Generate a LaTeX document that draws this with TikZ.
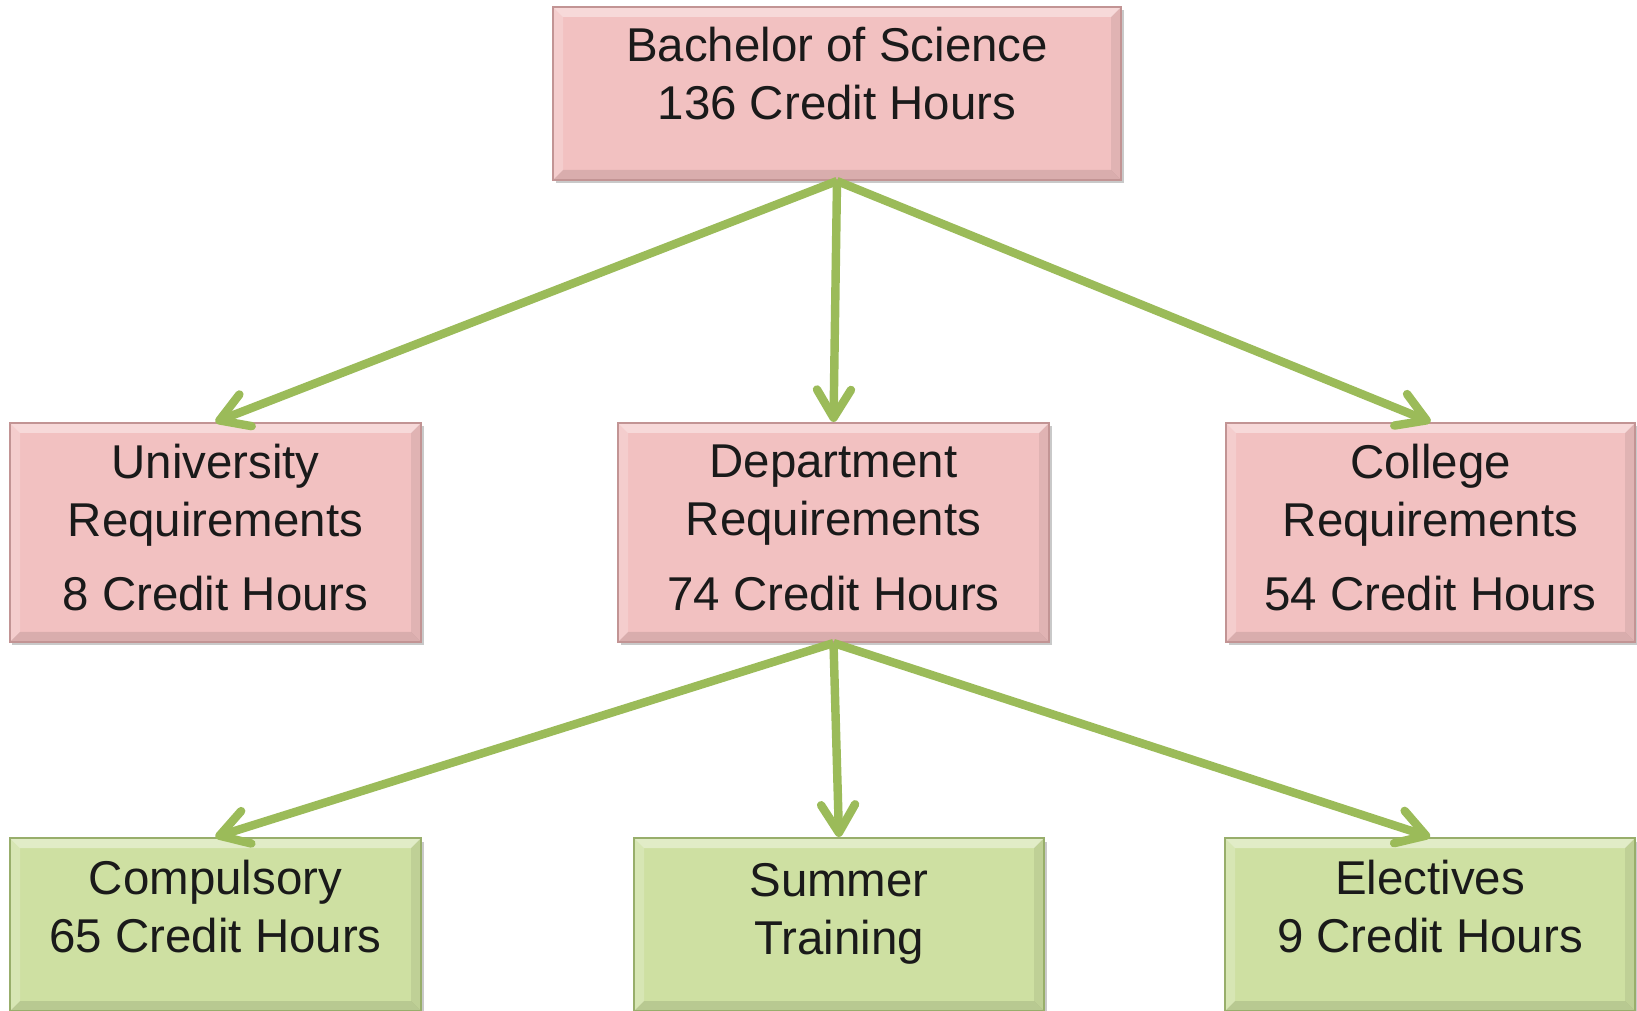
\documentclass[tikz,border=0pt]{standalone}
\usepackage{fontspec}
\setmainfont{Liberation Sans}
\usetikzlibrary{arrows.meta,shadows}
\definecolor{reqpink}{HTML}{F2C1C1}
\definecolor{reqpinkedge}{HTML}{C29494}
\definecolor{crsgreen}{HTML}{CEE0A2}
\definecolor{crsgreenedge}{HTML}{98AE6B}
\definecolor{linkgreen}{HTML}{9BBB59}
\definecolor{boxtextcol}{HTML}{1A1A1A}
\tikzset{
	bevel/.style={path picture={
		\fill[white,opacity=0.4] (path picture bounding box.north west) -- (path picture bounding box.north east) -- ([xshift=-0.1cm,yshift=-0.1cm]path picture bounding box.north east) -- ([xshift=0.1cm,yshift=-0.1cm]path picture bounding box.north west) -- cycle;
		\fill[white,opacity=0.2] (path picture bounding box.north west) -- (path picture bounding box.south west) -- ([xshift=0.1cm,yshift=0.1cm]path picture bounding box.south west) -- ([xshift=0.1cm,yshift=-0.1cm]path picture bounding box.north west) -- cycle;
		\fill[black,opacity=0.1] (path picture bounding box.south west) -- (path picture bounding box.south east) -- ([xshift=-0.1cm,yshift=0.1cm]path picture bounding box.south east) -- ([xshift=0.1cm,yshift=0.1cm]path picture bounding box.south west) -- cycle;
		\fill[black,opacity=0.07] (path picture bounding box.north east) -- (path picture bounding box.south east) -- ([xshift=-0.1cm,yshift=0.1cm]path picture bounding box.south east) -- ([xshift=-0.1cm,yshift=-0.1cm]path picture bounding box.north east) -- cycle;
	}},
	boxshadow/.style={drop shadow={shadow xshift=0.025cm, shadow yshift=-0.035cm, opacity=0.3, fill=black!70}},
	reqbox/.style={rectangle, inner sep=0pt, fill=reqpink, draw=reqpinkedge, line width=0.6pt, bevel, boxshadow},
	crsbox/.style={rectangle, inner sep=0pt, fill=crsgreen, draw=crsgreenedge, line width=0.6pt, bevel, boxshadow},
	boxlabel/.style={align=center, inner sep=0pt, text=boxtextcol, font=\fontsize{13.5}{16.5}\selectfont},
	link/.style={draw=linkgreen, line width=2.4pt, -{Straight Barb[length=0.28cm, width=0.34cm, round]}}
}
\begin{document}
\begin{tikzpicture}
		%%%%% START %%%%%
		\useasboundingbox (0, 0) rectangle (16.37, -10.11);
		
		\node[reqbox, minimum width=5.68cm, minimum height=1.73cm] (bs) at (8.37, -0.935) {};
		\node[boxlabel] (bslabel) at ([yshift=0.195cm]bs.center) {Bachelor of Science\\136 Credit Hours};
		
		\node[reqbox, minimum width=4.11cm, minimum height=2.19cm] (uni) at (2.155, -5.325) {};
		\node[reqbox, minimum width=4.31cm, minimum height=2.19cm] (dep) at (8.335, -5.325) {};
		\node[reqbox, minimum width=4.09cm, minimum height=2.19cm] (col) at (14.305, -5.325) {};
		\node[boxlabel] (unilabel) at ([yshift=0.05cm]uni.center) {University\\Requirements\\[4.8pt]8 Credit Hours};
		\node[boxlabel] (deplabel) at ([yshift=0.05cm]dep.center) {Department\\Requirements\\[4.8pt]74 Credit Hours};
		\node[boxlabel] (collabel) at ([yshift=0.05cm]col.center) {College\\Requirements\\[4.8pt]54 Credit Hours};
		
		\node[crsbox, minimum width=4.11cm, minimum height=1.73cm] (cmp) at (2.155, -9.245) {};
		\node[crsbox, minimum width=4.10cm, minimum height=1.73cm] (sum) at (8.39, -9.245) {};
		\node[crsbox, minimum width=4.10cm, minimum height=1.73cm] (ele) at (14.30, -9.245) {};
		\node[boxlabel] (cmplabel) at ([yshift=0.18cm]cmp.center) {Compulsory\\65 Credit Hours};
		\node[boxlabel] (sumlabel) at ([yshift=0.11cm]sum.center) {Summer\\Training};
		\node[boxlabel] (elelabel) at ([yshift=0.18cm]ele.center) {Electives\\9 Credit Hours};
		
		\draw[link] (bs.south) -- (uni.north);
		\draw[link] (bs.south) -- (dep.north);
		\draw[link] (bs.south) -- (col.north);
		
		\draw[link] (dep.south) -- (cmp.north);
		\draw[link] (dep.south) -- (sum.north);
		\draw[link] (dep.south) -- (ele.north);
		%%%%% END %%%%%
\end{tikzpicture}
\end{document}
